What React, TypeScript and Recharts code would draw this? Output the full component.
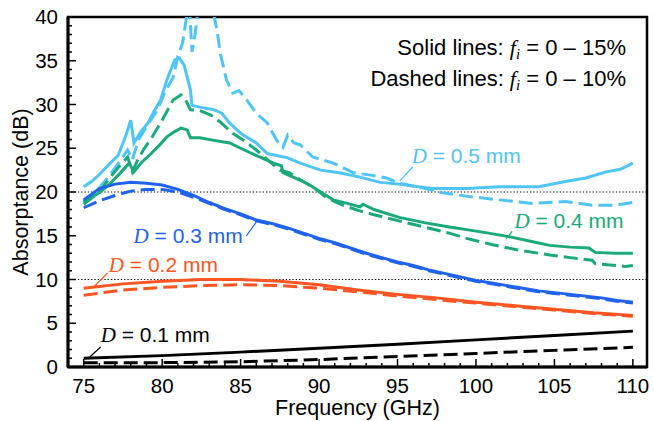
import React from 'react'
import {
  LineChart, Line, XAxis, YAxis, ReferenceLine, ReferenceDot, ReferenceArea,
} from 'recharts'

const SANS = '"Liberation Sans", Arial, sans-serif'
const SERIF = '"Liberation Serif", "Times New Roman", serif'

// D = 0.1 mm
const fBlack = [75, 80, 85, 90, 95, 100, 105, 110]
const black15 = [1.0, 1.3, 1.7, 2.15, 2.6, 3.1, 3.6, 4.1]
const black10 = [0.5, 0.5, 0.6, 0.85, 1.2, 1.55, 1.9, 2.25]

// D = 0.2 mm
const fOrange = [75, 77.5, 80, 82.5, 85, 87.5, 90, 92.5, 95, 97.5, 100, 102.5, 105, 107.5, 110]
const orange15 = [9.0, 9.5, 9.8, 10.0, 10.0, 9.8, 9.4, 8.8, 8.3, 7.9, 7.4, 7.0, 6.6, 6.2, 5.9]
const orange10 = [8.2, 8.8, 9.1, 9.3, 9.4, 9.3, 9.0, 8.6, 8.1, 7.7, 7.3, 6.9, 6.5, 6.1, 5.8]

// D = 0.3 mm
const fBlue = [75, 76, 77, 78, 79, 80, 81, 82, 83, 84, 85, 86, 87, 88, 89, 90, 91, 92, 93, 94, 95,
  96, 97, 98, 99, 100, 101, 102, 103, 104, 105, 106, 107, 108, 109, 110]
const blue15 = [19.1, 20.4, 20.9, 21.1, 21.0, 20.8, 20.3, 19.6, 18.8, 18.1, 17.5, 16.8, 16.4, 15.9, 15.3,
  14.7, 14.2, 13.6, 13.0, 12.5, 12.0, 11.6, 11.1, 10.7, 10.3, 9.9, 9.6, 9.3, 9.0, 8.7, 8.5, 8.3, 8.1,
  7.9, 7.6, 7.4]
const blue10 = [18.2, 19.0, 19.6, 20.1, 20.3, 20.3, 20.0, 19.4, 18.7, 18.0, 17.4, 16.7, 16.3, 15.8, 15.2,
  14.6, 14.1, 13.5, 12.9, 12.4, 11.9, 11.5, 11.0, 10.6, 10.2, 9.8, 9.5, 9.2, 8.9, 8.6, 8.4, 8.2, 8.0,
  7.8, 7.5, 7.3]

// D = 0.4 mm
const fGreen15 = [75, 76, 76.6, 77.4, 77.9, 78.2, 78.7, 79.3, 79.8, 80.3, 80.8, 81.2, 81.6, 81.8, 82.4,
  83.3, 84.3, 85, 86.2, 87.1, 87.6, 87.7, 88.1, 88.6, 89, 89.4, 90.1, 90.9, 91.8, 92.6, 92.8, 93.5,
  95.1, 96.7, 98.3, 99.4, 100.8, 102.1, 103.4, 104.7, 106, 107.2, 107.6, 108.8, 110]
const green15 = [18.9, 19.9, 20.8, 22.3, 23.3, 22.3, 23.4, 24.4, 25.3, 26.3, 26.9, 27.3, 27.1, 26.2, 26.2,
  25.9, 25.6, 25.0, 24.0, 23.3, 23.0, 22.2, 21.9, 21.5, 21.2, 20.8, 20.0, 19.1, 18.7, 18.3, 18.6, 18.0,
  17.1, 16.5, 16.0, 15.7, 15.3, 14.9, 14.4, 13.9, 13.7, 13.6, 13.1, 13.0, 13.0]
const fGreen10 = [75, 76, 76.7, 77.3, 77.8, 78.1, 78.4, 78.8, 79.4, 79.9, 80.3, 80.7, 81.2, 81.5, 81.8,
  82.4, 83.1, 83.7, 84.5, 85.2, 86, 86.7, 87.5, 88.1, 88.8, 89.9, 90.5, 91.5, 92.5, 93.5, 95.1, 96.7,
  98.3, 99.4, 101, 102.6, 104.7, 106, 107.4, 107.6, 109.5, 110]
const green10 = [18.6, 20.0, 21.7, 23.0, 24.0, 22.3, 23.5, 24.8, 26.4, 27.9, 29.2, 30.5, 31.1, 30.5, 29.4,
  29.3, 28.8, 28.0, 26.7, 25.9, 24.8, 23.7, 22.5, 22.2, 21.4, 20.2, 19.3, 18.5, 17.9, 17.4, 16.7, 16.0,
  15.3, 14.7, 14.0, 13.4, 12.8, 12.5, 12.2, 11.8, 11.5, 11.6]

// D = 0.5 mm
const fLight15 = [75, 75.5, 76, 76.7, 77.2, 77.7, 78, 78.2, 78.6, 79.1, 79.5, 79.9, 80.3, 80.8, 81.1,
  81.4, 81.8, 81.9, 82.4, 83.3, 83.8, 84.3, 85, 86, 86.7, 88, 88.8, 90.1, 91.3, 92.6, 93.9, 95.1, 97.2,
  99.4, 101.5, 104, 105.7, 107, 108.3, 109.2, 110]
const light15 = [20.6, 21.2, 22.0, 23.3, 24.2, 26.5, 28.2, 25.6, 26.8, 27.9, 29.3, 30.5, 32.8, 35.1, 35.3,
  34.5, 31.7, 29.9, 29.7, 29.4, 29.0, 27.9, 26.7, 25.6, 24.4, 23.9, 23.3, 22.5, 22.2, 21.7, 21.1, 20.9,
  20.4, 20.4, 20.6, 20.6, 21.2, 21.6, 22.3, 22.6, 23.3]
const fLight10 = [75, 76, 76.7, 77.3, 77.8, 78.1, 78.5, 79.2, 79.7, 80.2, 80.7, 81, 81.3, 81.6, 81.75,
  81.9, 82.1, 82.3, 82.7, 83.2, 83.5, 83.7, 84.1, 84.5, 84.9, 85.4, 86, 86.7, 87.3, 87.7, 88, 88.4, 88.8,
  89.6, 90.9, 92.2, 93.4, 94.3, 95.1, 96.5, 97.9, 99.5, 101.5, 103.6, 105.7, 107.4, 108.9, 110]
const light10 = [18.8, 20.5, 22.0, 23.5, 24.8, 23.7, 26.0, 28.0, 29.4, 31.5, 33.1, 35.5, 37.0, 40.5, 41.0,
  36.0, 38.0, 41.0, 42.0, 41.0, 38.5, 35.9, 32.8, 31.3, 31.6, 30.5, 29.0, 27.9, 25.9, 25.1, 26.5, 25.6,
  25.4, 24.0, 23.3, 22.2, 21.9, 21.6, 21.0, 20.5, 19.9, 19.5, 19.1, 18.7, 18.9, 18.5, 18.5, 18.8]

const xTicks = Array.from({ length: 36 }, (_, i) => 75 + i)
const yTicks = Array.from({ length: 41 }, (_, i) => i)

const toPts = (fs: number[], vs: number[]) => fs.map((f, i) => ({ f, v: vs[i] }))

const series = [
  { key: 'l10', color: '#4FC4F7', dashed: true, data: toPts(fLight10, light10) },
  { key: 'l15', color: '#4FC4F7', dashed: false, data: toPts(fLight15, light15) },
  { key: 'g10', color: '#19A97B', dashed: true, data: toPts(fGreen10, green10) },
  { key: 'g15', color: '#19A97B', dashed: false, data: toPts(fGreen15, green15) },
  { key: 'b10', color: '#1E62EE', dashed: true, data: toPts(fBlue, blue10) },
  { key: 'b15', color: '#1E62EE', dashed: false, data: toPts(fBlue, blue15) },
  { key: 'o10', color: '#FF5522', dashed: true, data: toPts(fOrange, orange10) },
  { key: 'o15', color: '#FF5522', dashed: false, data: toPts(fOrange, orange15) },
  { key: 'k10', color: '#000000', dashed: true, data: toPts(fBlack, black10) },
  { key: 'k15', color: '#000000', dashed: false, data: toPts(fBlack, black15) },
]

// label text, colour, anchor point and leader line (data coords)
const labels = [
  { text: '0.5 mm', color: '#4FC4F7', x: 95.9, y: 23.3, lead: [95.97, 22.86, 95.14, 21.26] },
  { text: '0.4 mm', color: '#19A97B', x: 102.45, y: 15.9, lead: [102.3, 15.5, 101.9, 14.6] },
  { text: '0.3 mm', color: '#1E62EE', x: 78.18, y: 14.2, lead: [85.36, 14.97, 86.05, 16.69] },
  { text: '0.2 mm', color: '#FF5522', x: 76.6, y: 10.86, lead: [76.52, 10.74, 75.57, 9.03] },
  { text: '0.1 mm', color: '#000000', x: 76.08, y: 2.86, lead: [76.08, 2.29, 75.32, 1.03] },
]

const XTick = (props: any) => {
  const { x, y, payload } = props
  const v = Math.round(payload.value)
  const major = v % 5 === 0
  return (
    <g>
      <line x1={x} x2={x} y1={y} y2={y - (major ? 8 : 4)} stroke="#000" strokeWidth={1.5} />
      {major && (
        <text x={x} y={y + 26} textAnchor="middle" fontSize={20.5} fontFamily={SANS} fill="#000">{v}</text>
      )}
    </g>
  )
}

const YTick = (props: any) => {
  const { x, y, payload } = props
  const v = Math.round(payload.value)
  const major = v % 5 === 0
  return (
    <g>
      <line x1={x} x2={x + (major ? 8 : 4)} y1={y} y2={y} stroke="#000" strokeWidth={1.5} />
      {major && (
        <text x={x - 10} y={y + 7} textAnchor="end" fontSize={20.5} fontFamily={SANS} fill="#000">{v}</text>
      )}
    </g>
  )
}

const xTitle = (p: any) => {
  const { x, y, width, height } = p.viewBox
  return (
    <text x={x + width / 2} y={y + height - 6} textAnchor="middle" fontSize={21.5} fontFamily={SANS} fill="#000">
      Frequency (GHz)
    </text>
  )
}

const yTitle = (p: any) => {
  const { x, y, height } = p.viewBox
  const cx = x + 28
  const cy = y + height / 2
  return (
    <text x={cx} y={cy} transform={`rotate(-90 ${cx} ${cy})`} textAnchor="middle" fontSize={21.5} fontFamily={SANS} fill="#000">
      Absorptance (dB)
    </text>
  )
}

const dLabel = (text: string, color: string) => (p: any) => {
  const { x, y } = p.viewBox
  return (
    <text x={x} y={y} fill={color} fontSize={21} fontFamily={SANS}>
      <tspan fontFamily={SERIF} fontStyle="italic">D</tspan>
      <tspan>{' = ' + text}</tspan>
    </text>
  )
}

const fiLabel = (name: string, range: string) => (p: any) => {
  const { x, y } = p.viewBox
  return (
    <text x={x} y={y} fill="#000" fontSize={22} fontFamily={SANS} textAnchor="end">
      <tspan>{name + ' lines:  '}</tspan>
      <tspan fontFamily={SERIF} fontStyle="italic">f</tspan>
      <tspan fontFamily={SERIF} fontStyle="italic" fontSize={15} dy={4}>i</tspan>
      <tspan dy={-4}>{' = 0 – ' + range}</tspan>
    </text>
  )
}

export default function App() {
  return (
    <div style={{ position: 'fixed', left: 0, top: 0, background: '#fff' }}>
      <LineChart width={653} height={421} margin={{ top: 17, right: 6, bottom: 0, left: 0 }}>
        <XAxis
          dataKey="f" type="number" domain={[74, 110.9]} allowDataOverflow
          ticks={xTicks} interval={0} tickSize={0} tickMargin={0} tick={<XTick />}
          axisLine={{ stroke: '#000', strokeWidth: 3 }} height={54}
          label={{ content: xTitle }}
        />
        <YAxis
          type="number" domain={[0, 40]} allowDataOverflow
          ticks={yTicks} interval={0} tickSize={0} tickMargin={0} tick={<YTick />}
          axisLine={{ stroke: '#000', strokeWidth: 3 }} width={68}
          label={{ content: yTitle }}
        />
        <ReferenceArea x1={74} x2={110.9} y1={0} y2={40} fill="none" stroke="#000" strokeWidth={2.5} />
        <ReferenceLine y={20} stroke="#000" strokeWidth={1.2} strokeDasharray="1.3 2" />
        <ReferenceLine y={10} stroke="#000" strokeWidth={1.2} strokeDasharray="1.3 2" />
        {series.map(s => (
          <Line
            key={s.key} data={s.data} dataKey="v" type="linear" stroke={s.color}
            strokeWidth={3} strokeDasharray={s.dashed ? '14 6' : undefined}
            dot={false} activeDot={false} isAnimationActive={false}
          />
        ))}
        {labels.map(l => (
          <ReferenceLine
            key={'lead' + l.text}
            segment={[{ x: l.lead[0], y: l.lead[1] }, { x: l.lead[2], y: l.lead[3] }]}
            stroke={l.color} strokeWidth={1.2}
          />
        ))}
        {labels.map(l => (
          <ReferenceDot key={'lab' + l.text} x={l.x} y={l.y} r={0} fill="none" stroke="none"
            label={{ content: dLabel(l.text, l.color) }} />
        ))}
        <ReferenceDot x={109.56} y={35.66} r={0} fill="none" stroke="none"
          label={{ content: fiLabel('Solid', '15%') }} />
        <ReferenceDot x={109.56} y={32.11} r={0} fill="none" stroke="none"
          label={{ content: fiLabel('Dashed', '10%') }} />
      </LineChart>
    </div>
  )
}
